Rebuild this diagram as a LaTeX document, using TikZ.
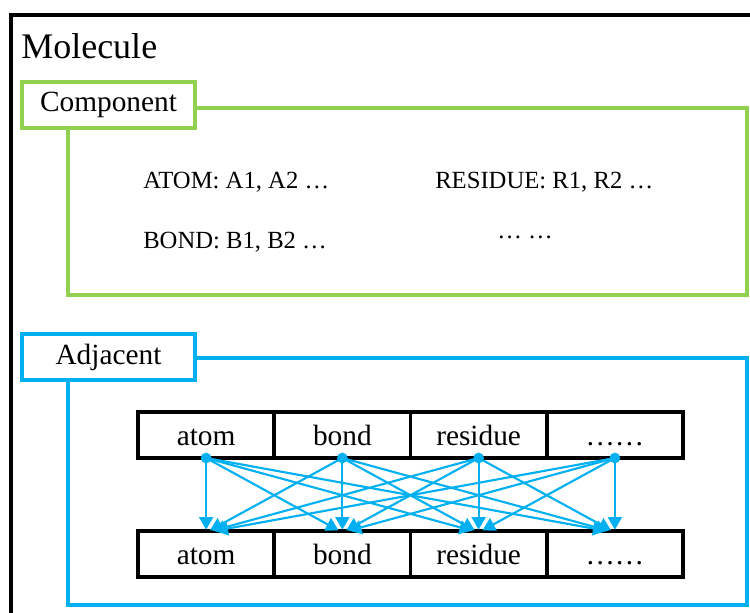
\documentclass[tikz,border=0pt]{standalone}
\usepackage{fontspec}
\setmainfont{Liberation Serif}
\usetikzlibrary{arrows}
\definecolor{compgreen}{HTML}{92D050}
\definecolor{adjblue}{HTML}{00B0F0}
\tikzstyle{groupframe}=[line width=2.4pt]
\tikzstyle{tagbox}=[rectangle,
                    draw,
                    fill=white,
                    line width=2.6pt,
                    minimum width=129.75pt,
                    minimum height=34.5pt,
                    text badly centered,
                    font=\fontsize{22}{24}\selectfont]
\tikzstyle{slot}=[rectangle,
                  draw,
                  line width=2.8pt,
                  outer sep=0pt,
                  inner sep=0pt,
                  minimum width=102.2pt,
                  minimum height=34.5pt,
                  text height=17pt,
                  text depth=2pt,
                  text badly centered,
                  font=\fontsize{22}{24}\selectfont]
\tikzstyle{entry}=[anchor=west,
                   inner sep=0pt,
                   font=\fontsize{18.5}{20}\selectfont]
\tikzstyle{linkarrow}=[-triangle 60,
                       adjblue,
                       line width=1.6pt,
                       shorten >=1pt]

\begin{document}
\begin{tikzpicture}[x=0.75pt,y=-0.75pt]
      \useasboundingbox (0,0) rectangle (750,613);

      % molecule
      \draw[line width=2.8pt] (770,15) -- (11,15) -- (11,630);
      \node[anchor=west, inner sep=0pt, font=\fontsize{27}{30}\selectfont] (molecule) at (21,46) {Molecule};

      % component
      \draw[groupframe, draw=compgreen] (68,108) rectangle (747,295);
      \node[tagbox, draw=compgreen] (component) at (108.5,105) {Component};
      \node[entry] (atoms)    at (143,182) {ATOM: A1, A2 …};
      \node[entry] (residues) at (435,182) {RESIDUE: R1, R2 …};
      \node[entry] (bonds)    at (143,242) {BOND: B1, B2 …};
      \node[entry] (more)     at (497,237) {… …};

      % adjacent
      \draw[groupframe, draw=adjblue] (68,358) rectangle (747,605);
      \node[tagbox, draw=adjblue] (adjacent) at (108.5,357) {Adjacent};

      \foreach \name [count=\i] in {atom,bond,residue,……} {
        \node[slot] (top\i) at (138+136.25*\i-68.125, 435) {\name};
        \node[slot] (bot\i) at (138+136.25*\i-68.125, 554) {\name};
      }

      \foreach \s in {1,...,4}
        \foreach \t in {1,...,4}
          \draw[linkarrow] (top\s.south) -- ([xshift={(\s-\t)*2pt}]bot\t.north);

      \foreach \s in {1,...,4}
        \fill[adjblue] (top\s.south) circle (4pt);
    \end{tikzpicture}
\end{document}
